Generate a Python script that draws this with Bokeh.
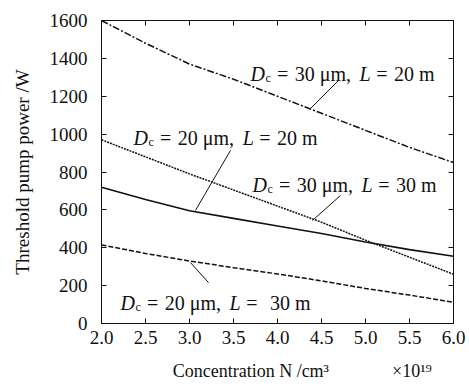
from bokeh.plotting import figure
from bokeh.models import Label, LinearAxis, FixedTicker, PrintfTickFormatter, Range1d
from bokeh.embed import file_html
from bokeh.resources import INLINE

# ---- data ----
N = [2.0, 2.5, 3.0, 3.5, 4.0, 4.5, 5.0, 5.5, 6.0]
p_d30_l20 = [1600, 1480, 1370, 1290, 1200, 1110, 1020, 930, 850]
p_d20_l20 = [970, 880, 790, 705, 620, 535, 440, 350, 260]
p_d30_l30 = [720, 655, 595, 555, 515, 475, 430, 390, 355]
p_d20_l30 = [415, 370, 330, 295, 262, 225, 185, 150, 112]

x_ticks = [2.0, 2.5, 3.0, 3.5, 4.0, 4.5, 5.0, 5.5, 6.0]
y_ticks = [0, 200, 400, 600, 800, 1000, 1200, 1400, 1600]

x_title = "Concentration N /cm\u00b3"
x_scale_note = "\u00d710\u00b9\u2079"
y_title = "Threshold pump power /W"

# annotation texts: (Dc value, L value) and their anchor / leader positions (data units)
ann_dc = ["30", "20", "30", "20"]
ann_L = ["20", "20", "30", "30"]
ann_gap = [0, 0, 0, 1]          # extra space before L value (last label has "L =  30 m")
ann_x = [3.693, 2.364, 3.716, 2.216]
ann_y = [1315, 977, 729, 106]
lead_x0 = [4.693, 3.466, 4.716, 3.216]
lead_y0 = [1283, 914, 676, 216]
lead_x1 = [4.375, 3.068, 4.398, 3.011]
lead_y1 = [1135, 597, 544, 322]

FONT = "Liberation Serif"
TICK_FONT = "serif"
INK = "#111111"
NB = "\u00a0"

p = figure(width=469, height=387, output_backend="svg", toolbar_location=None,
           x_range=Range1d(2.0, 6.0), y_range=Range1d(0, 1600),
           min_border_left=101, min_border_right=16, min_border_top=20,
           min_border_bottom=64)
p.grid.visible = False
p.outline_line_color = INK
p.outline_line_width = 1
p.background_fill_color = "white"
p.border_fill_color = "white"


def style_axis(ax, labels=True):
    ax.axis_line_color = INK
    ax.major_tick_in = 5
    ax.major_tick_out = 0
    ax.minor_tick_in = 0
    ax.minor_tick_out = 0
    ax.major_tick_line_color = INK
    ax.major_label_text_font = TICK_FONT
    ax.major_label_text_font_style = "normal"
    ax.major_label_text_font_size = "19px"
    ax.major_label_text_color = INK
    if not labels:
        ax.major_label_text_font_size = "0px"
        ax.major_label_text_alpha = 0


xa = p.xaxis[0]
xa.ticker = FixedTicker(ticks=x_ticks)
xa.formatter = PrintfTickFormatter(format="%.1f")
style_axis(xa)
xa.major_label_standoff = 7
xa.axis_label = NB * 11 + x_title + NB * 14 + x_scale_note
xa.axis_label_text_font = FONT
xa.axis_label_text_font_style = "normal"
xa.axis_label_text_font_size = "18px"
xa.axis_label_text_color = INK
xa.axis_label_standoff = 14

ya = p.yaxis[0]
ya.ticker = FixedTicker(ticks=y_ticks)
style_axis(ya)
ya.major_label_standoff = 14
ya.axis_label = y_title
ya.axis_label_text_font = FONT
ya.axis_label_text_font_style = "normal"
ya.axis_label_text_font_size = "19px"
ya.axis_label_text_color = INK
ya.axis_label_standoff = 14

top = LinearAxis(ticker=FixedTicker(ticks=x_ticks))
style_axis(top, labels=False)
p.add_layout(top, "above")
right = LinearAxis(ticker=FixedTicker(ticks=y_ticks))
style_axis(right, labels=False)
p.add_layout(right, "right")

# curves
p.line(N, p_d30_l20, line_color=INK, line_width=1.5, line_dash="7 2 2 2")
p.line(N, p_d20_l20, line_color=INK, line_width=1.5, line_dash="2 1")
p.line(N, p_d30_l30, line_color=INK, line_width=1.6)
p.line(N, p_d20_l30, line_color=INK, line_width=1.5, line_dash="5 2")

# leader lines
p.segment(lead_x0, lead_y0, lead_x1, lead_y1, line_color=INK, line_width=1)

# width table (em) for Times-metric font
W = {' ': 0.25, '=': 0.564, 'μ': 0.55, 'm': 0.778, ',': 0.25, 'c': 0.444,
     'D': 0.722, 'L': 0.611}


def tw(s, size):
    return sum(W.get(ch, 0.5) for ch in s) * size * 1.04


def rich(x, y, parts):
    """parts: (text, style, size, dy, space_before_em)"""
    off = 0.0
    for text, style, size, dy, sp in parts:
        off += sp * size
        p.add_layout(Label(x=x, y=y, x_offset=off, y_offset=dy, text=text,
                           text_font=FONT, text_font_style=style,
                           text_font_size=f"{size}px", text_color=INK,
                           text_baseline="alphabetic", text_align="left"))
        off += tw(text, size)


S = 20
for i in range(4):
    rich(ann_x[i], ann_y[i], [
        ("D", "italic", S, 0, 0),
        ("c", "normal", 12, -4, 0),
        ("=", "normal", S, 0, 0.3),
        (ann_dc[i] + " μm,", "normal", S, 0, 0.3),
        ("L", "italic", S, 0, 0.3),
        ("=", "normal", S, 0, 0.2),
        (ann_L[i] + " m", "normal", S, 0, 0.3 + 0.3 * ann_gap[i]),
    ])

open("out.html", "w").write(file_html(p, INLINE))
